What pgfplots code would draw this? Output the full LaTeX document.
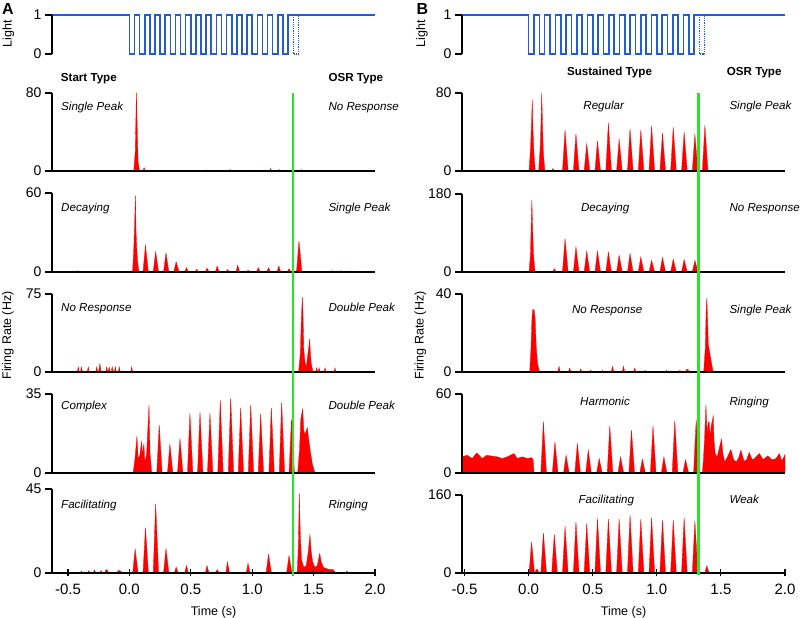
\documentclass[border=0pt]{standalone}
\usepackage{pgfplots}
\pgfplotsset{compat=1.18}
\usepackage{fontspec}
\setmainfont{Liberation Sans}

\definecolor{psred}{RGB}{255,0,0}
\definecolor{lightblue}{RGB}{35,90,220}
\definecolor{osrgreen}{RGB}{40,230,40}

\newcommand{\ann}{\fontsize{11.6}{13}\selectfont\itshape}
\newcommand{\hdr}{\fontsize{11.6}{13}\selectfont\bfseries}
\newcommand{\tck}{\fontsize{14}{16}\selectfont}
\newcommand{\lbl}{\fontsize{12.5}{15}\selectfont}

\tikzset{lab/.style={inner sep=0pt}}

\pgfplotsset{
  base/.style={scale only axis, width=323pt, axis y line=left,
    axis line style={line width=1.1pt,-}, tick style={line width=1.1pt,black},
    tick align=outside, major tick length=7pt, ticklabel style={font=\tck},
    ymin=0, clip=false, axis on top},
  colA/.style={base, xmin=-0.63, xmax=2},
  colB/.style={base, xmin=-0.52, xmax=2},
  psth/.style={axis x line=bottom, xtick=\empty, axis line style={line width=1.1pt,-}},
  light/.style={axis x line=none, height=39pt, ymax=1, ytick={0,1}, yticklabels={0,1}},
  bottomx/.style={xtick={-0.5,0,0.5,1,1.5,2}, xticklabels={-0.5,0.0,0.5,1.0,1.5,2.0},
    xticklabel style={font=\fontsize{15}{17}\selectfont, yshift=-4pt}},
  rate/.style={fill=psred, draw=psred, line width=0.3pt},
  trace/.style={lightblue, line width=1.6pt, const plot},
}

\begin{document}
\begin{tikzpicture}
\useasboundingbox (0,0) rectangle (800pt,618pt);

% ---------------- column A ----------------
\begin{axis}[colA, light, at={(52pt,564pt)}, anchor=south west]
  \addplot[trace] coordinates {(-0.63,1)(0,0)(0.0417,1)(0.0833,0)(0.125,1)(0.1667,0)(0.2083,1)(0.25,0)(0.2917,1)(0.3333,0)(0.375,1)(0.4167,0)(0.4583,1)(0.5,0)(0.5417,1)(0.5833,0)(0.625,1)(0.6667,0)(0.7083,1)(0.75,0)(0.7917,1)(0.8333,0)(0.875,1)(0.9167,0)(0.9583,1)(1.0,0)(1.0417,1)(1.0833,0)(1.125,1)(1.1667,0)(1.2083,1)(1.25,0)(1.2917,1)(2.0,1)};
  \addplot[lightblue, line width=1.2pt, densely dotted] coordinates {(1.3333,1)(1.3333,0)(1.375,0)(1.375,1)};
\end{axis}

\begin{axis}[colA, psth, height=78pt, ymax=80, ytick={0,80}, yticklabels={0,80}, at={(52pt,447pt)}, anchor=south west]
  \addplot[rate] coordinates {(-0.63,0)(-0.43,0)(-0.42,1)(-0.41,0)(0.036,0)(0.048,20)(0.057,80)(0.061,61)(0.065,40)(0.071,10)(0.082,0)(0.11,0)(0.12,3.4)(0.13,0)(0.54,0)(0.55,1)(0.56,0)(0.62,0)(0.63,1.2)(0.64,0)(0.81,0)(0.82,1.5)(0.83,0)(0.92,0)(0.93,1)(0.94,0)(1.14,0)(1.15,2.5)(1.16,0)(1.21,0)(1.22,1.5)(1.23,0)(1.39,0)(1.40,1.5)(1.41,0)(2.0,0)} \closedcycle;
  \coordinate (gAtop) at (axis cs:1.333,80);
\end{axis}

\begin{axis}[colA, psth, height=79pt, ymax=60, ytick={0,60}, yticklabels={0,60}, at={(52pt,346pt)}, anchor=south west]
  \addplot[rate] coordinates {(-0.43,0)(-0.42,1)(-0.41,0)
    (0.026,0)(0.036,18)(0.044,40)(0.049,58)(0.054,32)(0.060,18)(0.068,7)(0.078,0)
    (0.111,0)(0.131,20.4)(0.155,0)
    (0.194,0)(0.214,15.3)(0.238,0)
    (0.278,0)(0.298,14.5)(0.322,0)
    (0.361,0)(0.381,7.7)(0.405,0)
    (0.451,0)(0.465,3.3)(0.481,0)(0.534,0)(0.548,2)(0.564,0)
    (0.618,0)(0.632,3)(0.648,0)(0.701,0)(0.715,4.6)(0.731,0)
    (0.785,0)(0.799,1.8)(0.815,0)(0.868,0)(0.882,5.1)(0.898,0)
    (0.952,0)(0.966,1.3)(0.982,0)(1.035,0)(1.049,3.3)(1.065,0)
    (1.119,0)(1.133,3.3)(1.149,0)(1.202,0)(1.216,4.6)(1.232,0)
    (1.286,0)(1.300,2.5)(1.316,0)
    (1.361,0)(1.381,23.7)(1.405,0)
    (1.64,0)(1.65,1)(1.66,0)(1.71,0)(1.72,1)(1.73,0)(1.79,0)(1.80,0.8)(1.81,0)} \closedcycle;
\end{axis}

\begin{axis}[colA, psth, height=78pt, ymax=75, ytick={0,75}, yticklabels={0,75}, at={(52pt,246pt)}, anchor=south west]
  \addplot[rate] coordinates {(-0.424,0)(-0.416,4.8)(-0.408,0)(-0.398,0)(-0.390,4.8)(-0.382,0)
    (-0.343,0)(-0.335,4.8)(-0.327,0)(-0.274,0)(-0.266,4.8)(-0.258,0)
    (-0.250,0)(-0.240,8.3)(-0.230,0)(-0.193,0)(-0.185,4.8)(-0.177,0)
    (-0.173,0)(-0.165,5)(-0.157,0)(-0.148,0)(-0.140,5)(-0.132,0)
    (-0.123,0)(-0.115,4.8)(-0.107,0)(-0.090,0)(-0.082,4.8)(-0.074,0)
    (0.011,0)(0.019,4.8)(0.027,0)
    (1.378,0)(1.392,18)(1.400,50)(1.408,72)(1.414,55)(1.420,22)(1.430,9)(1.440,5)(1.450,14)(1.462,25)(1.468,31.7)(1.474,18)(1.482,7)(1.496,0)
    (1.517,0)(1.525,4)(1.533,0)(1.537,0)(1.545,4)(1.553,0)(1.585,0)(1.593,4)(1.601,0)(1.666,0)(1.674,4)(1.682,0)} \closedcycle;
\end{axis}

\begin{axis}[colA, psth, height=79pt, ymax=35, ytick={0,35}, yticklabels={0,35}, at={(52pt,145pt)}, anchor=south west]
  \addplot[rate] coordinates {(0.030,0)(0.045,6)(0.062,16.4)(0.072,6)(0.085,8)(0.100,13.9)(0.108,8)(0.118,13)(0.126,5)(0.140,8)(0.160,30.2)(0.168,9)(0.182,0)
    (0.223,0)(0.243,21.3)(0.267,0)
    (0.310,0)(0.330,12.8)(0.354,0)
    (0.392,0)(0.412,15.3)(0.436,0)
    (0.473,0)(0.493,26.5)(0.517,0)
    (0.555,0)(0.575,27)(0.599,0)
    (0.636,0)(0.656,26.5)(0.680,0)
    (0.720,0)(0.740,32.2)(0.764,0)
    (0.805,0)(0.825,33.2)(0.849,0)
    (0.886,0)(0.906,28.8)(0.930,0)
    (0.968,0)(0.988,30.2)(1.012,0)
    (1.049,0)(1.069,26.2)(1.093,0)
    (1.136,0)(1.156,28.8)(1.180,0)
    (1.220,0)(1.240,31.3)(1.264,0)
    (1.300,0)(1.320,23.8)(1.344,0)
    (1.370,0)(1.385,10)(1.396,24)(1.411,28.3)(1.420,19)(1.430,17)(1.449,20.1)(1.460,15)(1.475,9)(1.490,4)(1.511,0)} \closedcycle;
\end{axis}

\begin{axis}[colA, psth, bottomx, height=84pt, ymax=45, ytick={0,45}, yticklabels={0,45}, at={(52pt,45pt)}, anchor=south west]
  \addplot[rate] coordinates {(-0.40,0)(-0.39,1.1)(-0.38,0)(-0.34,0)(-0.33,1.3)(-0.32,0)(-0.295,0)(-0.284,1.6)(-0.273,0)
    (-0.24,0)(-0.23,1.4)(-0.22,0)(-0.20,0)(-0.19,1.8)(-0.18,1.6)(-0.17,0)(-0.10,0)(-0.09,1.4)(-0.07,1)(-0.06,0)
    (0.027,0)(0.047,12.8)(0.071,0)
    (0.111,0)(0.131,24.3)(0.155,0)
    (0.194,0)(0.214,37)(0.238,0)
    (0.278,0)(0.298,13.1)(0.322,0)
    (0.367,0)(0.381,3.2)(0.397,0)(0.451,0)(0.465,4)(0.481,0)
    (0.618,0)(0.632,4)(0.648,0)(0.701,0)(0.715,1.8)(0.731,0)
    (0.785,0)(0.799,5.9)(0.815,0)(0.952,0)(0.966,5.2)(0.982,0)
    (1.113,0)(1.133,10)(1.157,0)
    (1.280,0)(1.300,9.4)(1.324,0)
    (1.366,0)(1.376,14)(1.384,42.5)(1.392,20)(1.402,7)(1.420,3)(1.440,4)(1.456,11)(1.470,20.7)(1.480,12)(1.492,6)(1.510,3)(1.530,4)(1.550,10.4)(1.562,6)(1.580,3)(1.620,2)(1.660,1.8)(1.680,0)
    (1.760,0)(1.770,1.1)(1.780,0)} \closedcycle;
  \coordinate (gAbot) at (axis cs:1.333,0);
\end{axis}

% ---------------- column B ----------------
\begin{axis}[colB, light, at={(462pt,564pt)}, anchor=south west]
  \addplot[trace] coordinates {(-0.52,1)(0,0)(0.0417,1)(0.0833,0)(0.125,1)(0.1667,0)(0.2083,1)(0.25,0)(0.2917,1)(0.3333,0)(0.375,1)(0.4167,0)(0.4583,1)(0.5,0)(0.5417,1)(0.5833,0)(0.625,1)(0.6667,0)(0.7083,1)(0.75,0)(0.7917,1)(0.8333,0)(0.875,1)(0.9167,0)(0.9583,1)(1.0,0)(1.0417,1)(1.0833,0)(1.125,1)(1.1667,0)(1.2083,1)(1.25,0)(1.2917,1)(2.0,1)};
  \addplot[lightblue, line width=1.2pt, densely dotted] coordinates {(1.3333,1)(1.3333,0)(1.375,0)(1.375,1)};
\end{axis}

\begin{axis}[colB, psth, height=78pt, ymax=80, ytick={0,80}, yticklabels={0,80}, at={(462pt,447pt)}, anchor=south west]
  \addplot[rate] coordinates {(-0.476,0)(-0.466,1)(-0.456,0)
    (0.003,0)(0.015,24)(0.022,48)(0.028,73)(0.034,42)(0.041,18)(0.052,0)
    (0.078,0)(0.090,24)(0.097,52)(0.102,80)(0.108,48)(0.115,18)(0.127,0)
    (0.180,0)(0.190,2.7)(0.200,0)
    (0.264,0)(0.284,42.2)(0.308,0)
    (0.349,0)(0.369,38.1)(0.393,0)
    (0.433,0)(0.453,27.8)(0.477,0)
    (0.517,0)(0.537,30.9)(0.561,0)
    (0.602,0)(0.622,49.1)(0.646,0)
    (0.686,0)(0.706,32.6)(0.730,0)
    (0.771,0)(0.791,43.3)(0.815,0)
    (0.855,0)(0.875,42.2)(0.899,0)
    (0.939,0)(0.959,46.3)(0.983,0)
    (1.024,0)(1.044,38.8)(1.068,0)
    (1.108,0)(1.128,44.6)(1.152,0)
    (1.193,0)(1.213,39.8)(1.237,0)
    (1.277,0)(1.297,37.8)(1.321,0)
    (1.355,0)(1.375,46.7)(1.399,0)} \closedcycle;
  \coordinate (gBtop) at (axis cs:1.326,80);
\end{axis}

\begin{axis}[colB, psth, height=78pt, ymax=180, ytick={0,180}, yticklabels={0,180}, at={(462pt,346pt)}, anchor=south west]
  \addplot[rate] coordinates {(0.003,0)(0.014,40)(0.020,112)(0.025,166)(0.031,100)(0.038,40)(0.050,0)
    (0.188,0)(0.200,7.7)(0.214,0)
    (0.264,0)(0.284,77)(0.308,0)
    (0.349,0)(0.369,58)(0.393,0)
    (0.433,0)(0.453,48)(0.477,0)
    (0.517,0)(0.537,48)(0.561,0)
    (0.602,0)(0.622,46)(0.646,0)
    (0.686,0)(0.706,38.6)(0.730,0)
    (0.771,0)(0.791,42.5)(0.815,0)
    (0.855,0)(0.875,34.8)(0.899,0)
    (0.939,0)(0.959,27)(0.983,0)
    (1.024,0)(1.044,33.2)(1.068,0)
    (1.108,0)(1.128,29.4)(1.152,0)
    (1.193,0)(1.213,28.6)(1.237,0)
    (1.277,0)(1.297,27)(1.321,0)} \closedcycle;
\end{axis}

\begin{axis}[colB, psth, height=78pt, ymax=40, ytick={0,40}, yticklabels={0,40}, at={(462pt,246pt)}, anchor=south west]
  \addplot[rate] coordinates {(0.008,0)(0.018,12)(0.026,28)(0.032,32)(0.042,32)(0.050,28)(0.060,12)(0.070,4)(0.085,0)
    (0.227,0)(0.237,2.9)(0.247,0)(0.310,0)(0.320,2)(0.330,0)(0.396,0)(0.406,1.5)(0.416,0)
    (0.474,0)(0.484,0.85)(0.494,0)(0.566,0)(0.576,0.85)(0.586,0)(0.644,0)(0.654,2.9)(0.664,0)
    (0.730,0)(0.740,2.9)(0.750,0)(0.818,0)(0.828,2)(0.838,0)(0.899,0)(0.909,0.85)(0.919,0)
    (1.066,0)(1.076,0.85)(1.086,0)(1.170,0)(1.180,0.85)(1.190,0)(1.224,0)(1.234,1.5)(1.244,1.2)(1.254,0)
    (1.365,0)(1.378,12)(1.384,30)(1.390,38)(1.396,27)(1.402,14)(1.415,9)(1.428,4)(1.440,0)} \closedcycle;
\end{axis}

\begin{axis}[colB, psth, height=79pt, ymax=60, ytick={0,60}, yticklabels={0,60}, at={(462pt,145pt)}, anchor=south west]
  \addplot[rate] coordinates {(-0.52,0)(-0.52,12)(-0.505,12.8)(-0.479,13.5)(-0.44,11)(-0.406,15.3)(-0.362,11)(-0.328,13.5)(-0.284,12.8)(-0.245,12.3)(-0.206,11)(-0.167,12.3)(-0.115,14.8)(-0.089,11)(-0.05,12.3)(-0.01,11)(0.023,11.7)(0.035,10)(0.042,0)
    (0.095,0)(0.115,39)(0.139,0)
    (0.185,0)(0.205,23.7)(0.229,0)
    (0.272,0)(0.292,13.5)(0.316,0)
    (0.360,0)(0.380,22.5)(0.404,0)
    (0.445,0)(0.465,17.4)(0.489,0)
    (0.530,0)(0.550,11)(0.574,0)
    (0.613,0)(0.633,35.7)(0.657,0)
    (0.697,0)(0.717,12.3)(0.741,0)
    (0.782,0)(0.802,32.7)(0.826,0)
    (0.867,0)(0.887,10.5)(0.911,0)
    (0.950,0)(0.970,35.7)(0.994,0)
    (1.035,0)(1.055,12.3)(1.079,0)
    (1.120,0)(1.140,39.6)(1.164,0)
    (1.204,0)(1.224,10.2)(1.248,0)
    (1.287,0)(1.307,40.3)(1.331,0)
    (1.355,0)(1.362,8)(1.372,25)(1.383,51.8)(1.392,30)(1.400,38)(1.408,39)(1.416,28)(1.425,36)(1.440,43.4)(1.446,25)(1.455,15)(1.470,12)(1.490,20)(1.505,25.8)(1.515,15)(1.530,8.4)(1.550,12)(1.578,17.9)(1.600,10)(1.620,8.4)(1.640,12)(1.656,17.4)(1.680,9)(1.700,10)(1.721,15.6)(1.745,10)(1.760,11)(1.800,14.8)(1.830,10)(1.865,13)(1.900,10)(1.930,11)(1.956,14.8)(1.975,9)(2.0,14)(2.0,0)} \closedcycle;
\end{axis}

\begin{axis}[colB, psth, bottomx, height=78pt, ymax=160, ytick={0,160}, yticklabels={0,160}, at={(462pt,45pt)}, anchor=south west]
  \addplot[rate] coordinates {(-0.26,0)(-0.24,1)(-0.10,1)(-0.03,1.5)(-0.01,0)
    (0.003,0)(0.023,63.9)(0.045,0)
    (0.050,0)(0.058,6.9)(0.070,6.9)(0.080,0)
    (0.095,0)(0.115,82.4)(0.139,0)
    (0.180,0)(0.200,79)(0.224,0)
    (0.264,0)(0.284,96)(0.308,0)
    (0.349,0)(0.369,105)(0.393,0)
    (0.433,0)(0.453,101.6)(0.477,0)
    (0.517,0)(0.537,112)(0.561,0)
    (0.602,0)(0.622,110.6)(0.646,0)
    (0.686,0)(0.706,110.6)(0.730,0)
    (0.771,0)(0.791,118.8)(0.815,0)
    (0.855,0)(0.875,110.6)(0.899,0)
    (0.939,0)(0.959,114)(0.983,0)
    (1.024,0)(1.044,108.5)(1.068,0)
    (1.108,0)(1.128,108.5)(1.152,0)
    (1.193,0)(1.213,113.3)(1.237,0)
    (1.277,0)(1.297,107)(1.321,0)
    (1.374,0)(1.390,15)(1.408,0)} \closedcycle;
  \coordinate (gBbot) at (axis cs:1.326,0);
\end{axis}

% omitted-stimulus markers
\draw[osrgreen, line width=2.4pt] (gAtop) -- (gAbot) -- ++(0,-3pt);
\draw[osrgreen, line width=2.4pt] (gBtop) -- (gBbot) -- ++(0,-2pt);

% labels
\node[font=\fontsize{16}{18}\selectfont\bfseries] at (8pt,609pt) {A};
\node[font=\fontsize{16}{18}\selectfont\bfseries] at (422.5pt,609pt) {B};
\node[font=\lbl, rotate=90] at (8.3pt,584.3pt) {Light};
\node[font=\lbl, rotate=90] at (422pt,584.5pt) {Light};
\node[font=\lbl, rotate=90] at (8pt,282.5pt) {Firing Rate (Hz)};
\node[font=\lbl, rotate=90] at (420.5pt,282.5pt) {Firing Rate (Hz)};
\node[font=\lbl, anchor=base] at (213.5pt,2.5pt) {Time (s)};
\node[font=\lbl, anchor=base] at (623.5pt,2.5pt) {Time (s)};

\node[lab, font=\hdr, anchor=base west] at (60.7pt,536pt) {Start Type};
\node[lab, font=\hdr, anchor=base west] at (328.3pt,536pt) {OSR Type};
\node[lab, font=\hdr, anchor=base] at (609.5pt,542pt) {Sustained Type};
\node[lab, font=\hdr, anchor=base west] at (726.7pt,542pt) {OSR Type};

\node[lab, font=\ann, anchor=base west] at (61pt,507pt) {Single Peak};
\node[lab, font=\ann, anchor=base west] at (328.3pt,507pt) {No Response};
\node[lab, font=\ann, anchor=base west] at (61pt,406.3pt) {Decaying};
\node[lab, font=\ann, anchor=base west] at (328.3pt,406.3pt) {Single Peak};
\node[lab, font=\ann, anchor=base west] at (61pt,306pt) {No Response};
\node[lab, font=\ann, anchor=base west] at (328.3pt,306pt) {Double Peak};
\node[lab, font=\ann, anchor=base west] at (61pt,208pt) {Complex};
\node[lab, font=\ann, anchor=base west] at (328.3pt,208pt) {Double Peak};
\node[lab, font=\ann, anchor=base west] at (61pt,109.7pt) {Facilitating};
\node[lab, font=\ann, anchor=base west] at (328.3pt,109.7pt) {Ringing};

\node[lab, font=\ann, anchor=base] at (603.7pt,508pt) {Regular};
\node[lab, font=\ann, anchor=base west] at (729.3pt,508pt) {Single Peak};
\node[lab, font=\ann, anchor=base] at (605.2pt,406.3pt) {Decaying};
\node[lab, font=\ann, anchor=base west] at (729.3pt,406.3pt) {No Response};
\node[lab, font=\ann, anchor=base] at (607.2pt,304.7pt) {No Response};
\node[lab, font=\ann, anchor=base west] at (729.3pt,304.7pt) {Single Peak};
\node[lab, font=\ann, anchor=base] at (605pt,212.3pt) {Harmonic};
\node[lab, font=\ann, anchor=base west] at (729.3pt,212.3pt) {Ringing};
\node[lab, font=\ann, anchor=base] at (606.3pt,114.7pt) {Facilitating};
\node[lab, font=\ann, anchor=base west] at (729.3pt,114.7pt) {Weak};
\end{tikzpicture}
\end{document}
